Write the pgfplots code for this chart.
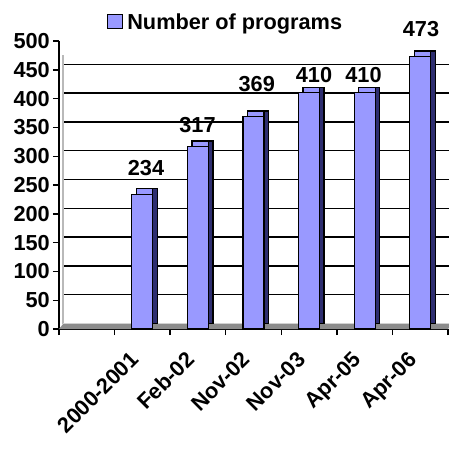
\documentclass[border=0pt]{standalone}
\usepackage{pgfplots}
\pgfplotsset{compat=1.18}
\usepackage{fontspec}
\setmainfont{Liberation Sans}
\definecolor{barfill}{HTML}{9999FF}
\definecolor{barside}{HTML}{2E2E70}
\definecolor{floorgray}{HTML}{8C8C8C}
\newcommand\lblfont{\fontsize{21.8}{24}\selectfont\bfseries}
\begin{document}
\begin{tikzpicture}
\useasboundingbox (-59bp,-122bp) rectangle (390bp,329bp);
\begin{axis}[
  at={(0,0)}, anchor=south west,
  scale only axis, width=389bp, height=288bp,
  xmin=-0.5, xmax=6.5, ymin=0, ymax=500,
  clip=false,
  axis lines*=left,
  axis line style={line width=1.6bp, black},
  tick align=outside,
  /pgf/number format/assume math mode=true,
  ytick={0,50,...,500},
  xtick={-0.5,0.5,...,6.5},
  xticklabel={\relax},
  major tick length=6bp,
  tick style={line width=1.4bp, black},
  yticklabel style={font=\lblfont, inner sep=3bp},
  extra x ticks={1,2,3,4,5,6},
  extra x tick labels={2000-2001,Feb-02,Nov-02,Nov-03,Apr-05,Apr-06},
  extra x tick style={major tick length=0pt,
    tick label style={font=\lblfont, xshift=-13bp, yshift=-21bp, rotate=45, anchor=north east, inner sep=0pt}},
  legend style={draw=none, fill=none, at={(axis description cs:0.1237,1.066)}, anchor=west,
    inner sep=0pt, font=\lblfont, legend cell align=left, column sep=2bp},
  legend image code/.code={\draw[fill=barfill, draw=black, line width=1bp] (0bp,-7bp) rectangle (15bp,7bp);},
]
% back wall gridlines (3-D depth offset)
\pgfplotsinvokeforeach{50,100,150,200,250,300,350,400,450}{
  \draw[black, line width=1.3bp] ([xshift=5bp,yshift=5.5bp]axis cs:-0.5,#1) -- ([xshift=5bp,yshift=5.5bp]axis cs:6.5,#1);
}
% left wall edge
\draw[gray!55, line width=2.6bp] ([xshift=4bp,yshift=5.5bp]axis cs:-0.5,0) -- ([xshift=4bp,yshift=5.5bp]axis cs:-0.5,466);
% floor
\fill[floorgray] (axis cs:-0.5,0) -- ([xshift=4.5bp,yshift=5.5bp]axis cs:-0.5,0) -- ([xshift=4.5bp,yshift=5.5bp]axis cs:6.5,0) -- (axis cs:6.5,0) -- cycle;
\draw[gray!35, line width=1.2bp] ([xshift=4.5bp,yshift=5.5bp]axis cs:-0.5,0) -- ([xshift=4.5bp,yshift=5.5bp]axis cs:6.5,0);

% front faces (legend entry)
\addplot[ybar, bar width=21bp, bar shift=0bp, fill=barfill, draw=none]
  coordinates {(1,234) (2,317) (3,369) (4,410) (5,410) (6,473)};
\addlegendentry{Number of programs}
% back copy (top face)
\addplot[ybar, bar width=21bp, bar shift=0bp, xshift=4.5bp, yshift=5.5bp, fill=barfill, draw=black, line width=1.2bp, forget plot]
  coordinates {(1,234) (2,317) (3,369) (4,410) (5,410) (6,473)};
% side faces
\addplot[ybar, bar width=4.5bp, bar shift=12.75bp, yshift=5.5bp, fill=barside, draw=black, line width=1.2bp, forget plot]
  coordinates {(1,234) (2,317) (3,369) (4,410) (5,410) (6,473)};
% front faces again on top
\addplot[ybar, bar width=21bp, bar shift=0bp, fill=barfill, draw=black, line width=1.2bp, forget plot]
  coordinates {(1,234) (2,317) (3,369) (4,410) (5,410) (6,473)};
% data labels
\addplot[only marks, mark=*, mark size=0pt, mark options={draw=none, fill=none},
  nodes near coords, point meta=explicit symbolic,
  nodes near coords style={font=\lblfont, anchor=south, inner sep=0pt}, forget plot]
  coordinates {(1.066,265.6)[234] (1.992,340)[317] (3.058,411)[369] (4.089,427)[410] (4.98,427)[410] (6.014,507)[473]};
\end{axis}
\end{tikzpicture}
\end{document}
